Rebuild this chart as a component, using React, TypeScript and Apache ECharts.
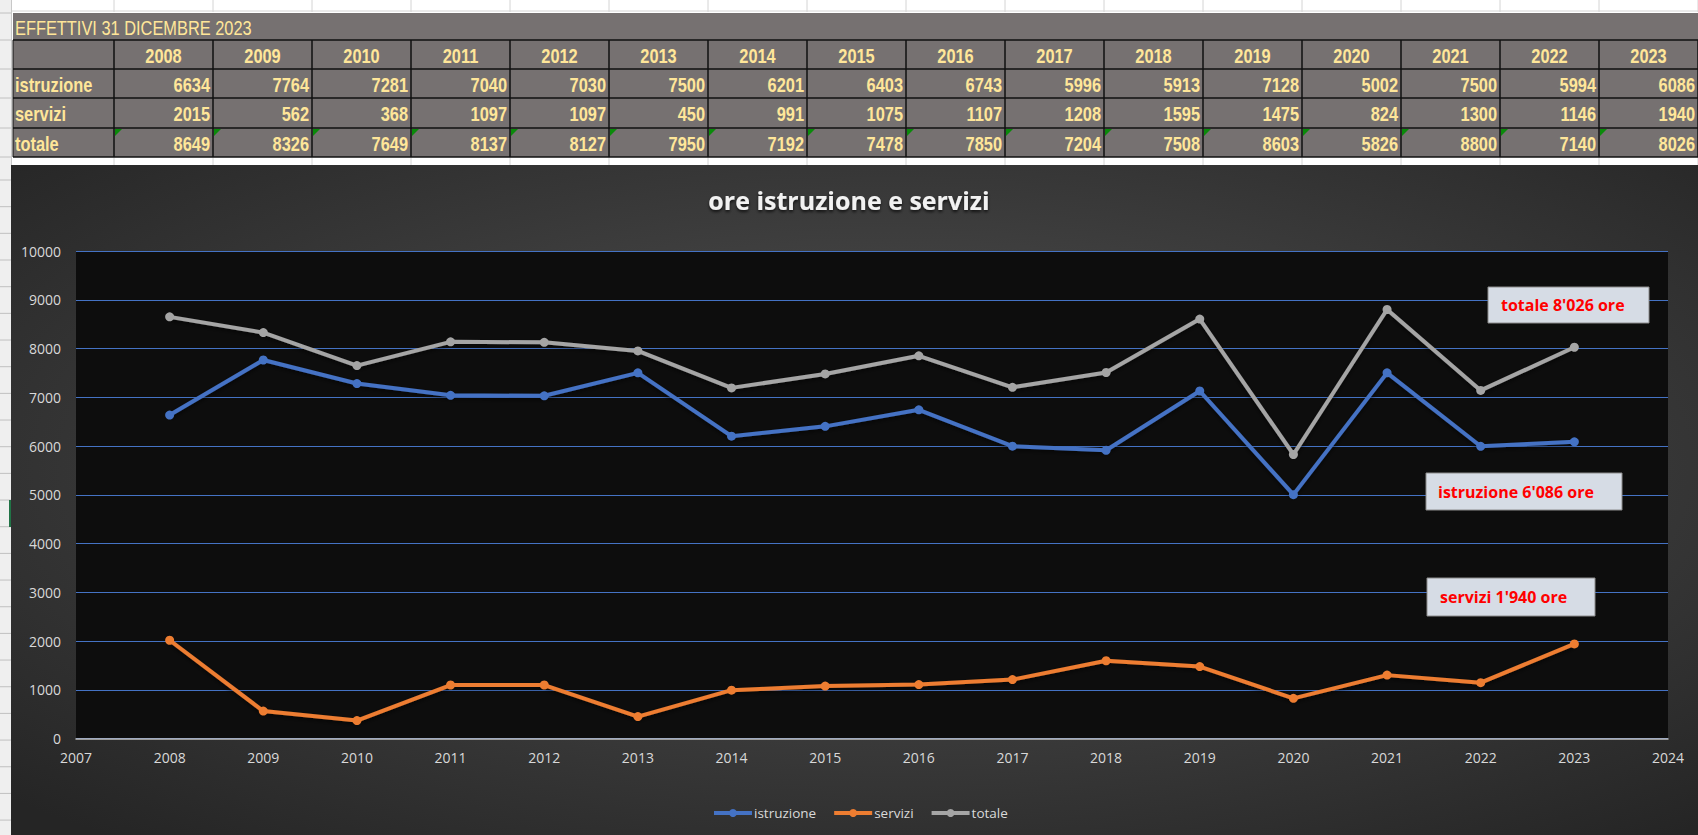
import React, { useEffect, useRef } from "react";
import * as echarts from "echarts";

// ---- data ----
const years = [2008, 2009, 2010, 2011, 2012, 2013, 2014, 2015, 2016, 2017, 2018, 2019, 2020, 2021, 2022, 2023];
const istruzione = [6634, 7764, 7281, 7040, 7030, 7500, 6201, 6403, 6743, 5996, 5913, 7128, 5002, 7500, 5994, 6086];
const servizi = [2015, 562, 368, 1097, 1097, 450, 991, 1075, 1107, 1208, 1595, 1475, 824, 1300, 1146, 1940];
const totale = [8649, 8326, 7649, 8137, 8127, 7950, 7192, 7478, 7850, 7204, 7508, 8603, 5826, 8800, 7140, 8026];
const rowLabels = ["istruzione", "servizi", "totale"];
const seriesNames = ["istruzione", "servizi", "totale"];
const tableTitle = "EFFETTIVI 31 DICEMBRE 2023";
const chartTitle = "ore istruzione e servizi";
const annotationTexts = ["totale 8'026 ore", "istruzione 6'086 ore", "servizi 1'940 ore"];

// ---- layout / style ----
const W = 1698;
const H = 835;
const CHART_FONT = "'Open Sans', 'Noto Sans', sans-serif";
const TABLE_FONT = "'Liberation Sans', Arial, sans-serif";
const NARROW = 0.82;
const TABLE_BG = "#767171";
const TABLE_TEXT = "#ffe699";
const COLORS = ["#4472c4", "#ed7d31", "#a5a5a5"];

const T_LEFT = 13;
const FIRST_COL_END = 114;
const COL_W = 99;
const ROW_Y = [13, 40, 69, 98, 128, 157];

const annotationBoxes = [
  { x: 1488, y: 287, w: 161, h: 36, tx: 1501 },
  { x: 1426, y: 473, w: 196, h: 37, tx: 1438 },
  { x: 1427, y: 578, w: 168, h: 38, tx: 1440 },
];

function tableText(text: string, x: number, y: number, align: string, bold: boolean) {
  return {
    type: "text", z: -26, silent: true, x, y, scaleX: NARROW, scaleY: 1,
    style: {
      text, fill: TABLE_TEXT,
      font: `${bold ? "bold" : "normal"} 20px ${TABLE_FONT}`,
      verticalAlign: "middle", align,
    },
  };
}

function buildGraphics(): any[] {
  const g: any[] = [];
  // page background
  g.push({ type: "rect", z: -30, silent: true, shape: { x: 0, y: 0, width: W, height: H }, style: { fill: "#ffffff" } });
  // excel gridlines above / below table
  g.push({ type: "line", z: -29, silent: true, shape: { x1: 11, y1: 11, x2: W, y2: 11 }, style: { stroke: "#d4d4d4", lineWidth: 1 } });
  for (let j = 0; j <= years.length; j++) {
    const x = FIRST_COL_END + j * COL_W;
    g.push({ type: "line", z: -29, silent: true, shape: { x1: x, y1: 0, x2: x, y2: 12 }, style: { stroke: "#d4d4d4", lineWidth: 1 } });
    g.push({ type: "line", z: -29, silent: true, shape: { x1: x, y1: 157, x2: x, y2: 165 }, style: { stroke: "#d4d4d4", lineWidth: 1 } });
  }
  // left strip (row headers)
  g.push({ type: "rect", z: -29, silent: true, shape: { x: 0, y: 0, width: 11, height: H }, style: { fill: "#efefef" } });
  g.push({ type: "line", z: -29, silent: true, shape: { x1: 11.5, y1: 0, x2: 11.5, y2: H }, style: { stroke: "#c8c8c8", lineWidth: 1 } });
  const ticks = [...ROW_Y];
  for (let k = 0; k < 25; k++) ticks.push(180 + k * 26.67);
  ticks.forEach((y) => {
    g.push({ type: "line", z: -28, silent: true, shape: { x1: 0, y1: y, x2: 11, y2: y }, style: { stroke: "#c0c0c0", lineWidth: 1 } });
  });
  g.push({ type: "rect", z: -27, silent: true, shape: { x: 9, y: 500, width: 3, height: 27 }, style: { fill: "#217346" } });

  // table background
  g.push({ type: "rect", z: -28, silent: true, shape: { x: T_LEFT, y: ROW_Y[0], width: W - T_LEFT, height: ROW_Y[5] - ROW_Y[0] }, style: { fill: TABLE_BG } });
  // table borders
  for (let r = 1; r < ROW_Y.length; r++) {
    g.push({ type: "line", z: -27, silent: true, shape: { x1: T_LEFT, y1: ROW_Y[r], x2: W, y2: ROW_Y[r] }, style: { stroke: "#111111", lineWidth: 1.5 } });
  }
  g.push({ type: "line", z: -27, silent: true, shape: { x1: T_LEFT, y1: ROW_Y[1], x2: T_LEFT, y2: ROW_Y[5] }, style: { stroke: "#111111", lineWidth: 1 } });
  for (let j = 0; j <= years.length; j++) {
    const x = FIRST_COL_END + j * COL_W;
    g.push({ type: "line", z: -27, silent: true, shape: { x1: x, y1: ROW_Y[1], x2: x, y2: ROW_Y[5] }, style: { stroke: "#111111", lineWidth: 1.5 } });
  }
  // table title
  g.push(tableText(tableTitle, 15, (ROW_Y[0] + ROW_Y[1]) / 2 + 1, "left", false));
  // header years
  years.forEach((yr, j) => {
    const x0 = FIRST_COL_END + j * COL_W;
    g.push(tableText(String(yr), x0 + COL_W / 2, (ROW_Y[1] + ROW_Y[2]) / 2 + 1, "center", true));
  });
  const rows = [istruzione, servizi, totale];
  rows.forEach((vals, r) => {
    const yc = (ROW_Y[r + 2] + ROW_Y[r + 3]) / 2 + 1;
    g.push(tableText(rowLabels[r], 15, yc, "left", true));
    vals.forEach((v, j) => {
      const x0 = FIRST_COL_END + j * COL_W;
      g.push(tableText(String(v), x0 + COL_W - 3, yc, "right", true));
      if (r === 2) {
        const y0 = ROW_Y[4];
        g.push({
          type: "polygon", z: -25, silent: true,
          shape: { points: [[x0 + 1, y0 + 1], [x0 + 8, y0 + 1], [x0 + 1, y0 + 8]] },
          style: { fill: "#0a8a0a" },
        });
      }
    });
  });

  // chart background
  g.push({
    type: "rect", z: -10, silent: true,
    shape: { x: 11, y: 165, width: W - 11, height: H - 165 },
    style: {
      fill: new echarts.graphic.RadialGradient(0.52, 0.45, 0.72, [
        { offset: 0, color: "#545454" },
        { offset: 1, color: "#252525" },
      ]),
    },
  });

  // annotations
  annotationBoxes.forEach((b, i) => {
    g.push({
      type: "rect", z: 10, silent: true,
      shape: { x: b.x, y: b.y, width: b.w, height: b.h },
      style: { fill: "#d6dce5", stroke: "#8c8c8c", lineWidth: 1 },
    });
    g.push({
      type: "text", z: 11, silent: true, x: b.tx, y: b.y + b.h / 2,
      style: { text: annotationTexts[i], fill: "#ff0000", font: `bold 16px ${CHART_FONT}`, verticalAlign: "middle", align: "left" },
    });
  });
  return g;
}

export default function App() {
  const ref = useRef<HTMLDivElement>(null);
  useEffect(() => {
    if (!ref.current) return;
    const chart = echarts.init(ref.current, null, { renderer: "svg" });
    const seriesData = [istruzione, servizi, totale];
    chart.setOption({
      animation: false,
      textStyle: { fontFamily: CHART_FONT },
      title: {
        text: chartTitle,
        left: "center",
        top: 182,
        textStyle: {
          color: "#f2f2f2",
          fontSize: 25,
          fontWeight: "bold",
          fontFamily: CHART_FONT,
          textShadowColor: "rgba(0,0,0,0.7)",
          textShadowBlur: 3,
          textShadowOffsetY: 2,
        },
      },
      legend: {
        top: 801,
        left: 707,
        itemWidth: 38,
        itemHeight: 10,
        itemGap: 16,
        data: seriesNames,
        lineStyle: { width: 4 },
        textStyle: { color: "#d9d9d9", fontSize: 13.5, fontFamily: CHART_FONT, padding: [0, 0, 0, -3] },
      },
      grid: {
        left: 76,
        right: 30,
        top: 251,
        bottom: 96.5,
        show: true,
        backgroundColor: "#0d0d0d",
        borderWidth: 0,
      },
      xAxis: {
        type: "value",
        min: 2007,
        max: 2024,
        interval: 1,
        axisLine: { show: true, lineStyle: { color: "#bfbfbf", width: 1.5 } },
        axisTick: { show: false },
        splitLine: { show: false },
        axisLabel: { color: "#d9d9d9", fontSize: 14, margin: 12, fontFamily: CHART_FONT, formatter: (v: number) => String(v) },
      },
      yAxis: {
        type: "value",
        min: 0,
        max: 10000,
        interval: 1000,
        axisLine: { show: false },
        axisTick: { show: false },
        splitLine: { show: true, lineStyle: { color: "#4472c4", width: 1 } },
        axisLabel: { color: "#d9d9d9", fontSize: 14, margin: 15, fontFamily: CHART_FONT, formatter: (v: number) => String(v) },
      },
      graphic: { elements: buildGraphics() },
      series: seriesNames.map((name, i) => ({
        name,
        type: "line",
        data: years.map((y, k) => [y, seriesData[i][k]]),
        symbol: "circle",
        symbolSize: 9,
        color: COLORS[i],
        itemStyle: { color: COLORS[i] },
        lineStyle: {
          width: 4,
          color: COLORS[i],
          shadowColor: "rgba(0,0,0,0.6)",
          shadowBlur: 4,
          shadowOffsetY: 2,
        },
        emphasis: { disabled: true },
        z: 3 + (2 - i),
      })),
    });
    return () => chart.dispose();
  }, []);
  return <div ref={ref} style={{ position: "absolute", left: 0, top: 0, width: W, height: H }} />;
}
